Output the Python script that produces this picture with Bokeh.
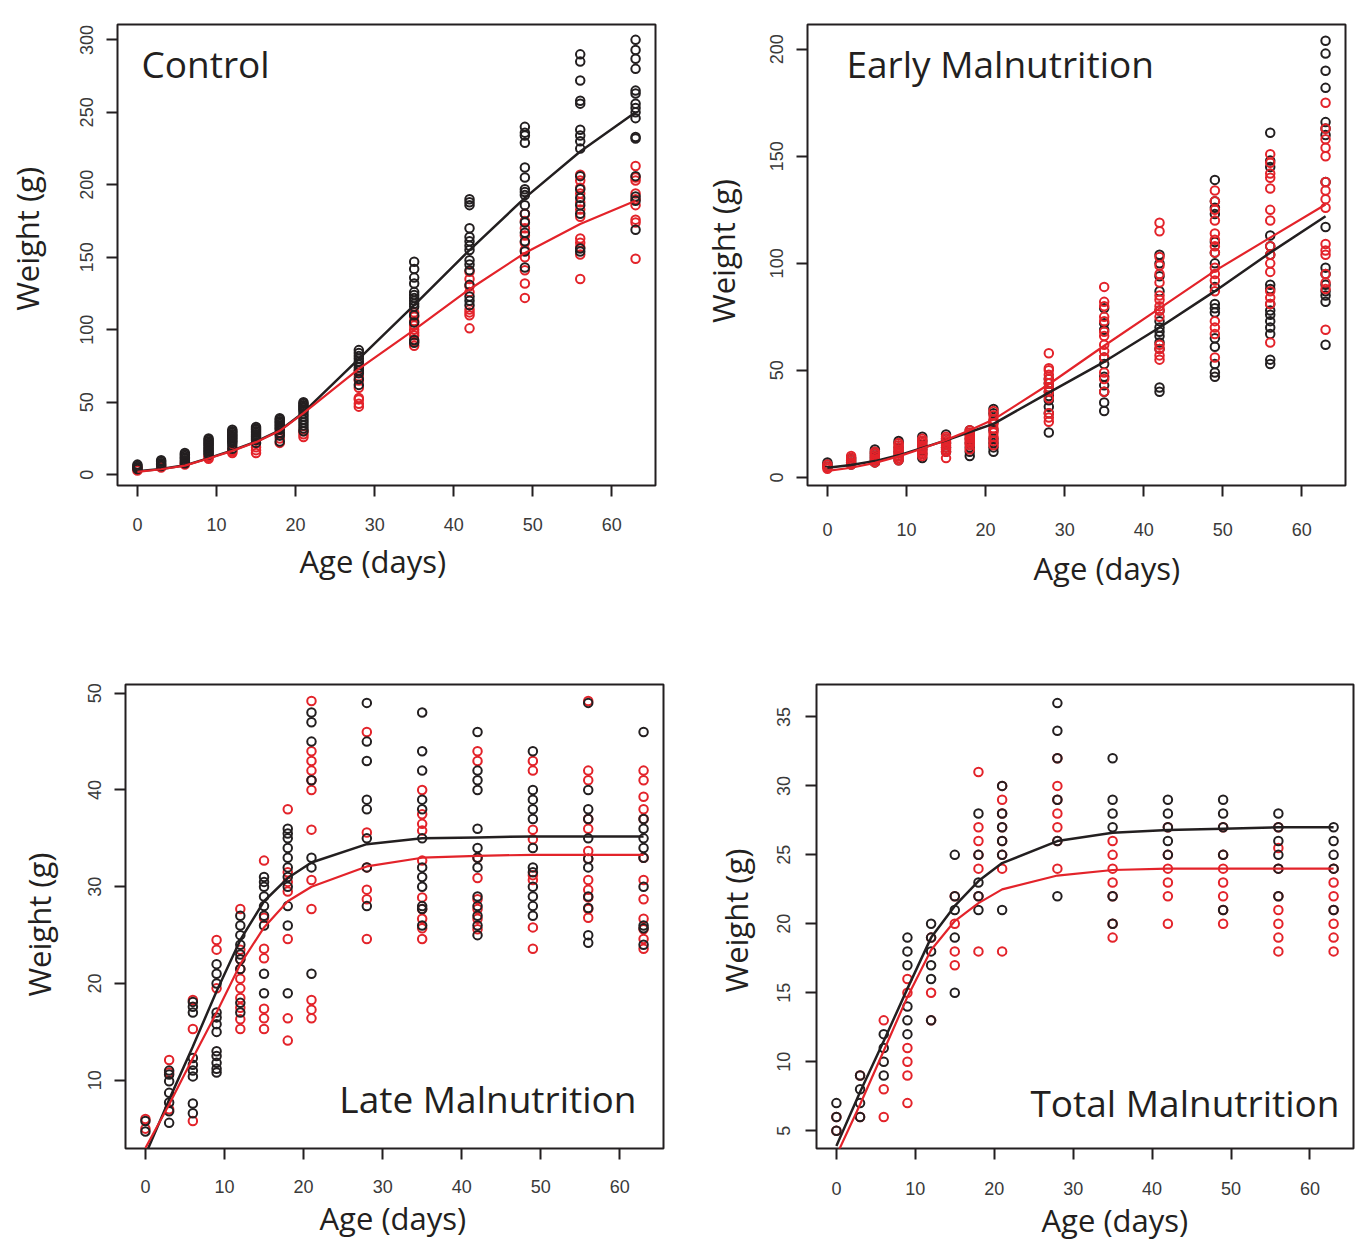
import math
from bokeh.plotting import figure
from bokeh.models import ColumnDataSource, FixedTicker, Label, Range1d, Title
from bokeh.layouts import row, column
from bokeh.embed import file_html
from bokeh.resources import INLINE

# ---------------- data ----------------
ages = [0, 3, 6, 9, 12, 15, 18, 21, 28, 35, 42, 49, 56, 63]

ctrl_black = [
    [4, 5, 6, 7],
    [6, 7, 8, 9, 10],
    [8, 9, 10, 11, 12, 13, 14, 15],
    [14, 15, 16, 17, 18, 19, 20, 21, 22, 23, 24, 25],
    [18, 20, 22, 23, 24, 25, 26, 27, 28, 29, 30, 31],
    [22, 24, 25, 26, 27, 28, 29, 30, 31, 32, 33],
    [23, 27, 29, 31, 32, 33, 34, 35, 36, 37, 38, 39],
    [30, 32, 34, 36, 38, 40, 42, 44, 45, 46, 47, 48, 49, 50],
    [62, 66, 70, 72, 74, 76, 78, 80, 82, 84, 86],
    [91, 93, 105, 110, 116, 118, 120, 122, 124, 126, 132, 136, 142, 147],
    [117, 120, 123, 131, 141, 145, 148, 155, 158, 161, 164, 170, 186, 188, 190],
    [143, 154, 161, 167, 174, 180, 186, 193, 195, 197, 205, 212, 229, 234, 236, 240],
    [154, 156, 180, 186, 191, 197, 206, 225, 230, 234, 238, 256, 258, 272, 285, 290],
    [169, 189, 192, 206, 232, 233, 246, 250, 253, 256, 263, 265, 280, 287, 293, 300],
]
ctrl_red = [
    [3, 4, 5],
    [5, 6],
    [7, 8],
    [11, 12, 13],
    [15, 16, 17],
    [15, 17, 19],
    [22, 25, 28],
    [26, 28, 30],
    [47, 49, 52, 53, 60, 65, 68, 72],
    [89, 92, 96, 98, 100, 103, 106, 109, 112],
    [101, 110, 112, 114, 126, 130, 135, 140],
    [122, 132, 141, 150, 155, 160, 165, 170, 175, 180],
    [135, 152, 157, 160, 163, 178, 183, 188, 194, 198, 203, 207],
    [149, 174, 176, 186, 190, 194, 203, 205, 213],
]
ctrl_black_fit = [2.5, 4, 6.5, 11.5, 16.8, 22.8, 30.6, 43, 80, 117, 155, 191, 223, 250]
ctrl_red_fit = [2, 3.8, 6.3, 11.2, 16.5, 22.5, 30.3, 42.5, 73, 100, 128, 153, 173, 189]

early_black = [
    [5, 6, 7],
    [6, 7, 8, 9],
    [7, 8, 9, 10, 11, 12, 13],
    [8, 10, 12, 14, 16, 17],
    [9, 11, 13, 15, 17, 19],
    [12, 14, 16, 18, 20],
    [10, 12, 14, 16, 18, 20, 22],
    [12, 14, 16, 18, 22, 26, 30, 32],
    [21, 30, 33, 36, 38, 40, 42, 44, 46],
    [31, 35, 40, 43, 47, 53, 56, 69, 72, 79],
    [40, 42, 60, 63, 66, 68, 70, 73, 78, 87, 94, 100, 104],
    [47, 49, 53, 61, 65, 77, 79, 81, 89, 100, 105, 110, 123, 126, 129, 139],
    [53, 55, 67, 70, 73, 76, 78, 81, 88, 90, 104, 108, 113, 145, 148, 161],
    [62, 82, 85, 87, 90, 95, 98, 117, 138, 160, 163, 166, 182, 190, 198, 204],
]
early_red = [
    [4, 5, 6],
    [6, 7, 8, 9, 10],
    [7, 8, 9, 10, 11, 12],
    [8, 9, 10, 11, 12, 13, 14, 15, 16],
    [10, 11, 12, 13, 14, 15, 16, 17, 18],
    [9, 12, 13, 14, 15, 16, 17, 18, 19],
    [13, 15, 16, 17, 18, 19, 20, 21, 22],
    [15, 17, 19, 21, 23, 25, 27, 29, 31],
    [26, 28, 30, 37, 40, 42, 44, 46, 48, 50, 51, 58],
    [40, 46, 49, 56, 59, 62, 66, 68, 73, 75, 80, 82, 89],
    [55, 57, 60, 62, 75, 78, 80, 83, 85, 91, 95, 99, 103, 115, 119],
    [56, 67, 70, 73, 87, 92, 95, 98, 105, 108, 111, 114, 120, 125, 129, 134],
    [63, 81, 84, 87, 96, 100, 104, 108, 120, 125, 135, 140, 142, 147, 151],
    [69, 88, 91, 95, 104, 106, 109, 126, 130, 134, 138, 150, 154, 158, 163, 175],
]
early_black_fit = [4.5, 5.8, 7.6, 10.3, 13.8, 17.3, 21.2, 25, 39.6, 54, 70, 87, 105, 122]
early_red_fit = [3, 4.5, 6.8, 9.8, 13.5, 17.5, 22, 27, 43.5, 61.5, 79, 96.5, 112, 127.5]

late_black = [
    [4.7, 5.8],
    [5.6, 6.8, 7.7, 8.7, 9.9, 10.6, 11],
    [6.6, 7.6, 10.4, 11, 11.6, 12.3, 17, 17.6, 18.1],
    [10.8, 11.2, 11.8, 12.5, 13, 15, 15.8, 16.5, 17, 20, 21, 22],
    [17, 18, 21.5, 22.5, 23, 24, 25, 26, 27],
    [19, 21, 26, 27, 28, 29, 30, 30.5, 31],
    [19, 26, 28, 30, 31, 32, 33, 34, 35, 35.5, 36],
    [21, 32, 33, 41, 45, 47, 48],
    [28, 32, 35, 38, 39, 43, 45, 49],
    [26, 27.7, 28, 30, 31, 32, 35, 38, 39, 42, 44, 48],
    [25, 26, 27, 28, 29, 32, 33, 34, 36, 40, 41, 42, 46],
    [27, 28, 29, 30, 31.5, 32, 34, 37, 38, 39, 40, 44],
    [24.2, 25, 27.8, 29, 32, 32.9, 35, 37, 38, 40, 49],
    [24, 25.7, 26, 30, 33, 34, 35, 36, 37, 46],
]
late_red = [
    [5, 6],
    [7, 10.8, 12.1],
    [5.8, 15.3, 18.3],
    [19.5, 23.5, 24.5],
    [15.3, 16.3, 17.5, 18.5, 19.5, 20.5, 21.5, 22.5, 23.5, 27.7],
    [15.3, 16.4, 17.4, 22.6, 23.6, 26.8, 32.7],
    [14.1, 16.4, 24.6, 29.5, 30.5, 31.5, 38],
    [16.4, 17.3, 18.3, 27.7, 30.7, 35.9, 40, 41, 42, 43, 44, 49.2],
    [24.6, 28.7, 29.7, 32, 35.6, 46],
    [24.6, 25.7, 26.7, 27.7, 28.9, 32.7, 35.8, 36.5, 37.5, 40],
    [25.6, 26.7, 27.7, 28.7, 30.9, 33, 43, 44],
    [23.6, 25.8, 30.7, 31.2, 34.9, 35.9, 42, 43],
    [26.8, 27.7, 28.9, 29.7, 30.7, 32.9, 33.7, 36, 37, 41, 42, 49.2],
    [23.6, 24.6, 25.6, 26.7, 28.7, 30.7, 33, 37, 38, 39.3, 41, 42],
]
late_black_fit = [2.3, 8, 13.5, 19.2, 24.5, 28.5, 30.9, 32.5, 34.4, 35.0, 35.1, 35.2, 35.2, 35.2]
late_red_fit = [3.0, 7.5, 12.3, 17, 22, 25.8, 28.5, 30.0, 32.1, 33.0, 33.2, 33.3, 33.3, 33.3]

total_black = [
    [5, 6, 7],
    [6, 7, 8, 9],
    [9, 10, 11, 12],
    [12, 13, 14, 17, 18, 19],
    [13, 16, 17, 18, 19, 20],
    [15, 19, 21, 22, 25],
    [21, 22, 23, 25, 28],
    [21, 25, 26, 27, 28, 30],
    [22, 26, 29, 32, 34, 36],
    [20, 22, 27, 28, 29, 32],
    [25, 26, 27, 28, 29],
    [21, 25, 27, 28, 29],
    [22, 24, 25, 26, 27, 28],
    [21, 24, 25, 26, 27],
]
total_red = [
    [5, 6],
    [6, 9],
    [6, 8, 13],
    [7, 9, 10, 11, 15, 16],
    [13, 15, 19],
    [17, 18, 20, 22],
    [18, 22, 24, 25, 26, 27, 31],
    [18, 24, 25, 26, 27, 28, 29, 30],
    [24, 26, 27, 28, 29, 30, 32],
    [19, 20, 22, 23, 24, 25, 26],
    [20, 22, 23, 24, 25, 27],
    [20, 21, 22, 23, 24, 25, 27],
    [18, 19, 20, 21, 22, 24, 25.5, 27],
    [18, 19, 20, 21, 22, 23, 24],
]
total_black_fit = [3.9, 7.8, 11.5, 15.3, 19.0, 21.3, 23.1, 24.4, 26.0, 26.6, 26.8, 26.9, 27.0, 27.0]
total_red_fit = [3.2, 6.9, 10.8, 14.7, 18.1, 20.2, 21.5, 22.5, 23.5, 23.9, 24.0, 24.0, 24.0, 24.0]

x_ticks = [0, 10, 20, 30, 40, 50, 60]

# ---------------- styling ----------------
BLACK = "#231f20"
RED = "#e3232a"
TITLE_FONT = "Open Sans"
TICK_FONT = "Liberation Sans"
NB = "\u00a0"
XR = (-2.52, 65.52)


def flatten(groups):
    xs, ys = [], []
    for a, vals in zip(ages, groups):
        for v in vals:
            xs.append(a)
            ys.append(v)
    return xs, ys


def make_panel(cfg):
    p = figure(width=cfg["w"], height=cfg["h"],
               x_range=Range1d(*XR), y_range=Range1d(*cfg["yr"]),
               min_border_left=cfg["mb"][0], min_border_right=cfg["mb"][1],
               min_border_top=cfg["mb"][2], min_border_bottom=cfg["mb"][3],
               output_backend="svg", toolbar_location=None, title=None)
    p.background_fill_color = "white"
    p.border_fill_color = "white"
    p.outline_line_color = BLACK
    p.outline_line_width = 2
    p.xgrid.visible = False
    p.ygrid.visible = False
    p.xaxis.ticker = FixedTicker(ticks=x_ticks, minor_ticks=[])
    p.yaxis.ticker = FixedTicker(ticks=cfg["yticks"], minor_ticks=[])
    for ax in (p.xaxis, p.yaxis):
        ax.axis_line_color = None
        ax.major_tick_line_color = BLACK
        ax.major_tick_line_width = 2
        ax.major_tick_out = 11
        ax.major_tick_in = 0
        ax.minor_tick_line_color = None
        ax.minor_tick_out = 0
        ax.major_label_text_font = TICK_FONT
        ax.major_label_text_font_size = "18px"
        ax.major_label_text_color = "#3a3a3a"
    p.xaxis.major_label_standoff = cfg["xstand"]
    p.yaxis.major_label_standoff = cfg["ystand"]
    p.yaxis.major_label_orientation = "vertical"

    # y title as the axis label (padding shifts it along the axis)
    p.yaxis.axis_label = NB * cfg["ypad"][0] + "Weight (g)" + NB * cfg["ypad"][1]
    p.yaxis.axis_label_standoff = cfg["ylab_stand"]
    p.yaxis.axis_label_text_font = TITLE_FONT
    p.yaxis.axis_label_text_font_size = "31px"
    p.yaxis.axis_label_text_font_style = "normal"
    p.yaxis.axis_label_text_color = BLACK

    bx, by = flatten(cfg["black"])
    rx, ry = flatten(cfg["red"])
    src_b = ColumnDataSource(dict(x=bx, y=by))
    src_r = ColumnDataSource(dict(x=rx, y=ry))
    order = [(src_r, RED), (src_b, BLACK)] if not cfg["red_top"] else [(src_b, BLACK), (src_r, RED)]
    for src, col in order:
        p.scatter("x", "y", source=src, marker="circle", size=8.5,
                  fill_color=None, line_color=col, line_width=2)
    p.line(ages, cfg["black_fit"], line_color=BLACK, line_width=2.5)
    p.line(ages, cfg["red_fit"], line_color=RED, line_width=2.2)

    # page-pixel -> data helpers for the in-frame panel name
    L, T = cfg["page"][0] + cfg["mb"][0], cfg["page"][1] + cfg["mb"][2]
    W = cfg["w"] - cfg["mb"][0] - cfg["mb"][1]
    H = cfg["h"] - cfg["mb"][2] - cfg["mb"][3]
    x0, x1 = XR
    y0, y1 = cfg["yr"]

    def dx(px):
        return x0 + (px - L) / W * (x1 - x0)

    def dy(py):
        return y1 - (py - T) / H * (y1 - y0)

    tx, ty, talign = cfg["title_pos"]
    p.add_layout(Label(x=dx(tx), y=dy(ty), text=cfg["title"], text_font=TITLE_FONT,
                       text_font_size="37px", text_color=BLACK, text_align=talign,
                       text_baseline="alphabetic"))

    p.add_layout(Title(text="Age (days)", align="left", offset=cfg["xoff"],
                       vertical_align="top", standoff=cfg["xts"], text_font=TITLE_FONT,
                       text_font_size="31px", text_font_style="normal", text_color=BLACK), "below")
    return p


panels = [
    dict(w=690, h=610, page=(0, 0), mb=(117, 35, 24, 125), yr=(-7.4, 310.6),
         yticks=[0, 50, 100, 150, 200, 250, 300], xstand=21, ystand=13,
         black=ctrl_black, red=ctrl_red, black_fit=ctrl_black_fit, red_fit=ctrl_red_fit, red_top=False,
         title="Control", title_pos=(141, 63, "left"),
         ypad=(4, 0), ylab_stand=30, xoff=182, xts=12),
    dict(w=672, h=610, page=(690, 0), mb=(117, 17, 22, 119), yr=(-3.8, 211.6),
         yticks=[0, 50, 100, 150, 200], xstand=26, ystand=13,
         black=early_black, red=early_red, black_fit=early_black_fit, red_fit=early_red_fit, red_top=True,
         title="Early Malnutrition", title_pos=(846, 62, "left"),
         ypad=(1, 0), ylab_stand=24, xoff=226, xts=16),
    dict(w=690, h=641, page=(0, 610), mb=(125, 27, 69, 103), yr=(2.95, 50.9),
         yticks=[10, 20, 30, 40, 50], xstand=20, ystand=13,
         black=late_black, red=late_red, black_fit=late_black_fit, red_fit=late_red_fit, red_top=False,
         title="Late Malnutrition", title_pos=(636, 1097, "right"),
         ypad=(0, 2), ylab_stand=26, xoff=194, xts=2),
    dict(w=672, h=641, page=(690, 610), mb=(126, 9, 74, 98), yr=(3.71, 37.35),
         yticks=[5, 10, 15, 20, 25, 30, 35], xstand=22, ystand=15,
         black=total_black, red=total_red, black_fit=total_black_fit, red_fit=total_red_fit, red_top=False,
         title="Total Malnutrition", title_pos=(1339, 1106, "right"),
         ypad=(0, 1), ylab_stand=18, xoff=225, xts=2),
]

figs = [make_panel(c) for c in panels]
layout = column(row(figs[0], figs[1]), row(figs[2], figs[3]))

open("out.html", "w").write(file_html(layout, INLINE))
